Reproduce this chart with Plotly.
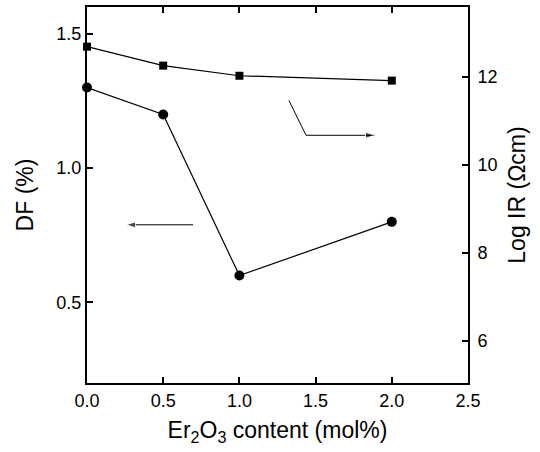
import plotly.graph_objects as go

x_vals = [0.0, 0.5, 1.0, 2.0]
df_vals = [1.30, 1.20, 0.60, 0.80]
logir_vals = [12.68, 12.25, 12.02, 11.91]

x_ticks = [0.0, 0.5, 1.0, 1.5, 2.0, 2.5]
x_ticklabels = ["0.0", "0.5", "1.0", "1.5", "2.0", "2.5"]
df_ticks = [0.5, 1.0, 1.5]
df_ticklabels = ["0.5", "1.0", "1.5"]
ir_ticks = [6, 8, 10, 12]

# indicator arrows (data coordinates of the reference's arrows)
df_arrow_x = [0.696, 0.256]
df_arrow_y = [0.789, 0.789]
ir_arrow_x = [1.325, 1.437, 1.89]
ir_arrow_y = [11.46, 10.67, 10.67]

FONT = "Liberation Sans, Arial, sans-serif"

fig = go.Figure()
fig.add_trace(go.Scatter(
    x=x_vals, y=df_vals, mode="lines+markers", yaxis="y",
    line=dict(color="black", width=1.2),
    marker=dict(symbol="circle", size=10, color="black"),
    showlegend=False, cliponaxis=False, hoverinfo="skip"))
fig.add_trace(go.Scatter(
    x=x_vals, y=logir_vals, mode="lines+markers", yaxis="y2",
    line=dict(color="black", width=1.2),
    marker=dict(symbol="square", size=8, color="black"),
    showlegend=False, cliponaxis=False, hoverinfo="skip"))

# arrows drawn as lines with an arrow marker at the end
fig.add_trace(go.Scatter(
    x=df_arrow_x, y=df_arrow_y, mode="lines+markers", yaxis="y",
    line=dict(color="black", width=1),
    marker=dict(symbol="arrow", angleref="previous", size=[0, 10], color="black"),
    showlegend=False, hoverinfo="skip"))
fig.add_trace(go.Scatter(
    x=ir_arrow_x, y=ir_arrow_y, mode="lines+markers", yaxis="y2",
    line=dict(color="black", width=1),
    marker=dict(symbol="arrow", angleref="previous", size=[0, 0, 10], color="black"),
    showlegend=False, hoverinfo="skip"))

axis_common = dict(showgrid=False, zeroline=False, showline=True, linecolor="black",
                   linewidth=2, ticks="inside", ticklen=6, tickwidth=1.5, tickcolor="black",
                   tickfont=dict(family=FONT, size=18, color="black"))
title_font = dict(family=FONT, size=23, color="black")

fig.update_layout(
    width=540, height=452,
    margin=dict(l=87, r=72, t=5, b=69),
    paper_bgcolor="white", plot_bgcolor="white",
    xaxis=dict(range=[0, 2.5], tickvals=x_ticks, ticktext=x_ticklabels, mirror="ticks",
               title=dict(text="Er<sub>2</sub>O<sub>3</sub> content (mol%)",
                          font=title_font, standoff=12),
               **axis_common),
    yaxis=dict(range=[0.2, 1.6], tickvals=df_ticks, ticktext=df_ticklabels,
               title=dict(text="DF (%)", font=title_font, standoff=16),
               **axis_common),
    yaxis2=dict(range=[5.05, 13.58], tickvals=ir_ticks, overlaying="y", side="right",
                ticklabelstandoff=4,
                title=dict(text="Log IR (\u03a9cm)", font=title_font, standoff=12),
                **axis_common),
)

fig.write_html("out.html")
